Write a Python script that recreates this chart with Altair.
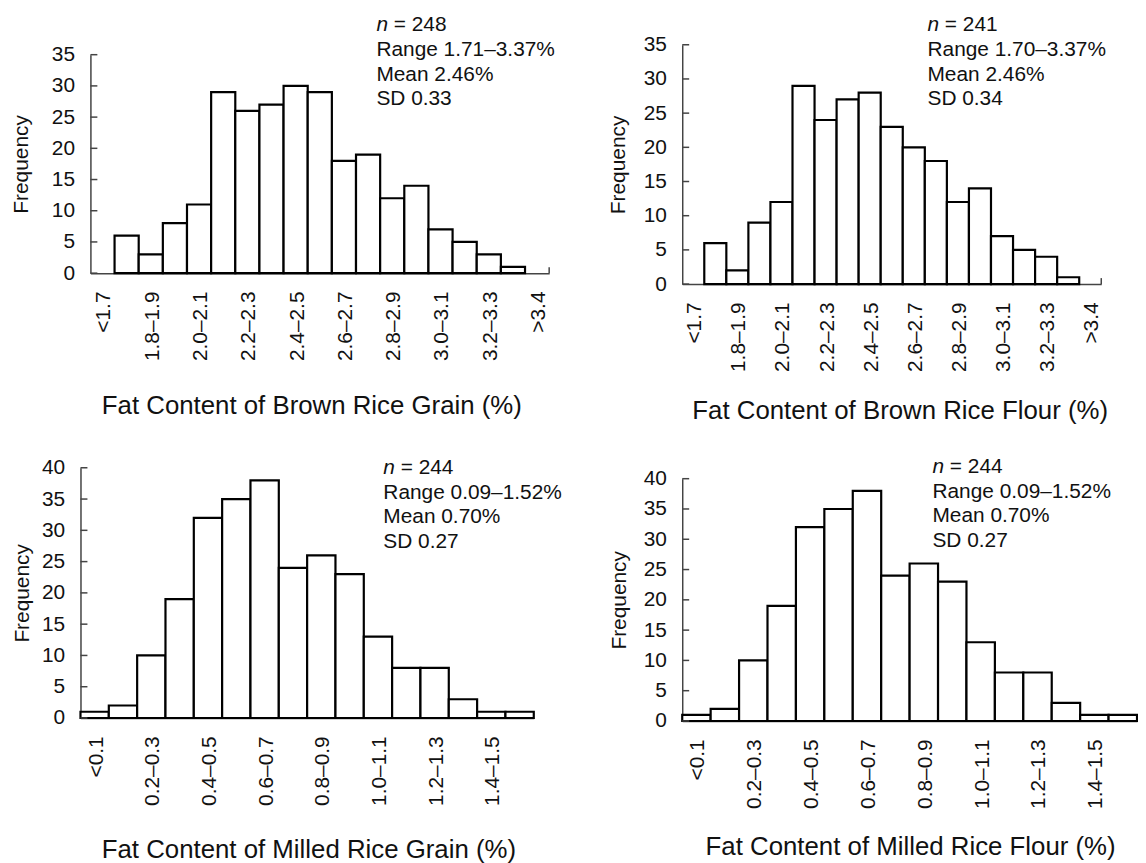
import altair as alt
import pandas as pd

FONT = "Liberation Sans"
INK = "#111111"
AXIS = "#444444"
W, H = 1138, 855

# ---------------- data ----------------
brown_bins = ["<1.7", "1.7–1.8", "1.8–1.9", "1.9–2.0", "2.0–2.1", "2.1–2.2", "2.2–2.3",
              "2.3–2.4", "2.4–2.5", "2.5–2.6", "2.6–2.7", "2.7–2.8", "2.8–2.9", "2.9–3.0",
              "3.0–3.1", "3.1–3.2", "3.2–3.3", "3.3–3.4", ">3.4"]
brown_grain_counts = [0, 6, 3, 8, 11, 29, 26, 27, 30, 29, 18, 19, 12, 14, 7, 5, 3, 1, 0]
brown_flour_counts = [0, 6, 2, 9, 12, 29, 24, 27, 28, 23, 20, 18, 12, 14, 7, 5, 4, 1, 0]

milled_bins = ["<0.1", "0.1–0.2", "0.2–0.3", "0.3–0.4", "0.4–0.5", "0.5–0.6", "0.6–0.7",
               "0.7–0.8", "0.8–0.9", "0.9–1.0", "1.0–1.1", "1.1–1.2", "1.2–1.3", "1.3–1.4",
               "1.4–1.5", ">1.5"]
milled_grain_counts = [1, 2, 10, 19, 32, 35, 38, 24, 26, 23, 13, 8, 8, 3, 1, 1]
milled_flour_counts = [1, 2, 10, 19, 32, 35, 38, 24, 26, 23, 13, 8, 8, 3, 1, 1]

titles = ["Fat Content of Brown Rice Grain (%)", "Fat Content of Brown Rice Flour (%)",
          "Fat Content of Milled Rice Grain (%)", "Fat Content of Milled Rice Flour (%)"]
stat_n = [248, 241, 244, 244]
stat_lines = [["Range 1.71–3.37%", "Mean 2.46%", "SD 0.33"],
              ["Range 1.70–3.37%", "Mean 2.46%", "SD 0.34"],
              ["Range 0.09–1.52%", "Mean 0.70%", "SD 0.27"],
              ["Range 0.09–1.52%", "Mean 0.70%", "SD 0.27"]]
y_max = [35, 35, 40, 40]

# ---------------- geometry (pixels in the chart frame) ----------------
geom = [
    dict(xr=[83, 545], yr=[264, 44], fx=-59, tx=305.5, ty=120, sx=371, sy=20, end=True),
    dict(xr=[679, 1101], yr=[275, 34], fx=-54, tx=898, ty=114, sx=926, sy=20, end=True),
    dict(xr=[73, 529.5], yr=[712, 460], fx=-48, tx=302.5, ty=119, sx=378, sy=466, end=False),
    dict(xr=[679, 1137], yr=[715, 471], fx=-53, tx=908.5, ty=113, sx=931, sy=465, end=False),
]


def panel(bins, counts, ymax, title, n, lines, g):
    df = pd.DataFrame({"bin": bins, "count": counts})
    tick_vals = list(range(0, ymax + 1, 5))
    xs = alt.Scale(domain=bins, range=g["xr"], paddingInner=0, paddingOuter=0)
    ys = alt.Scale(domain=[0, ymax], range=g["yr"], nice=False)

    xaxis = alt.Axis(
        orient="bottom", offset=g["yr"][0] - H, values=bins[::2],
        labelAngle=-90, labelFont=FONT, labelFontSize=21, labelColor=INK,
        labelPadding=18, labelOffset=2, labelOverlap=False,
        ticks=False, tickSize=0, domainColor=AXIS, domainWidth=1.5, grid=False,
        title=title, titleFont=FONT, titleFontSize=26, titleFontWeight="normal",
        titleColor=INK, titleX=g["tx"], titleY=g["ty"],
    )
    yaxis = alt.Axis(
        orient="left", offset=-g["xr"][0], values=tick_vals,
        labelFont=FONT, labelFontSize=21, labelColor=INK, labelPadding=16,
        labelOverlap=False, ticks=False, tickSize=0,
        domainColor=AXIS, domainWidth=1.5, grid=False,
        title="Frequency", titleFont=FONT, titleFontSize=21, titleFontWeight="normal",
        titleColor=INK, titleX=g["fx"],
    )

    bars = alt.Chart(df).transform_filter("datum.count > 0").mark_bar(
        fill="white", stroke="black", strokeWidth=2.2, opacity=1
    ).encode(
        x=alt.X("bin:N", scale=xs, axis=xaxis, sort=None),
        y=alt.Y("count:Q", scale=ys, axis=yaxis),
    )

    # inward-pointing tick marks on the frequency axis
    ticks = alt.Chart(pd.DataFrame({"v": tick_vals})).mark_rule(
        color=AXIS, strokeWidth=1.5
    ).encode(
        y=alt.Y("v:Q", scale=ys, axis=yaxis),
        x=alt.value(g["xr"][0]),
        x2=alt.value(g["xr"][0] + 7),
    )

    layers = [bars, ticks]
    if g["end"]:
        layers.append(
            alt.Chart(pd.DataFrame({"k": [0]})).mark_rule(color=AXIS, strokeWidth=1.5).encode(
                x=alt.value(g["xr"][1]), y=alt.value(g["yr"][0]), y2=alt.value(g["yr"][0] - 6)
            )
        )

    txt = dict(font=FONT, fontSize=21, color=INK, align="left", baseline="alphabetic")
    n_df = pd.DataFrame({"t": ["n"], "e": [f"= {n}"]})
    layers.append(
        alt.Chart(n_df).mark_text(fontStyle="italic", **txt).encode(
            x=alt.value(g["sx"]), y=alt.value(g["sy"]), text="t:N")
    )
    layers.append(
        alt.Chart(n_df).mark_text(**txt).encode(
            x=alt.value(g["sx"] + 17.5), y=alt.value(g["sy"]), text="e:N")
    )
    layers.append(
        alt.Chart(pd.DataFrame({"k": [0]})).mark_text(text=lines, lineHeight=25, **txt).encode(
            x=alt.value(g["sx"]), y=alt.value(g["sy"] + 25))
    )
    return alt.layer(*layers)


panels = [
    panel(brown_bins, brown_grain_counts, y_max[0], titles[0], stat_n[0], stat_lines[0], geom[0]),
    panel(brown_bins, brown_flour_counts, y_max[1], titles[1], stat_n[1], stat_lines[1], geom[1]),
    panel(milled_bins, milled_grain_counts, y_max[2], titles[2], stat_n[2], stat_lines[2], geom[2]),
    panel(milled_bins, milled_flour_counts, y_max[3], titles[3], stat_n[3], stat_lines[3], geom[3]),
]

chart = alt.layer(*panels).resolve_scale(x="independent", y="independent").properties(
    width=W, height=H, autosize=alt.AutoSizeParams(type="none"), padding=0,
    background="white",
).configure_view(stroke=None)

chart.save("out.html", embed_options={"renderer": "svg", "actions": False})
